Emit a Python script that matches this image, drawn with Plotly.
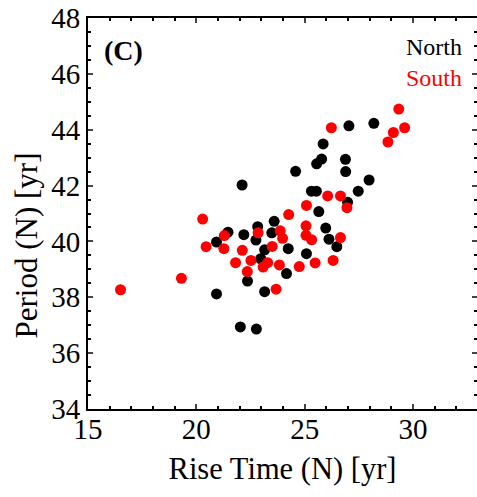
import plotly.graph_objects as go

north_rise = [25.85, 25.55, 25.78, 26.88, 26.89, 24.58, 27.97, 22.11, 25.31, 25.54,
              27.47, 26.98, 25.65, 23.59, 22.83, 21.46, 22.19, 23.48, 25.97, 20.93,
              22.75, 26.12, 26.48, 24.24, 23.15, 25.08, 22.97, 24.16, 22.36, 23.15,
              20.93, 22.03, 22.77, 27.04, 28.19]
north_period = [43.49, 42.78, 42.95, 42.94, 42.50, 42.51, 42.20, 42.02, 41.80, 41.80,
                41.80, 41.40, 41.07, 40.72, 40.53, 40.33, 40.24, 40.31, 40.48, 39.98,
                40.05, 40.08, 39.81, 39.74, 39.70, 39.56, 39.38, 38.85, 38.58, 38.20,
                38.12, 36.94, 36.86, 44.14, 44.23]

south_rise = [29.34, 29.61, 29.09, 28.84, 26.23, 26.06, 26.65, 25.08, 26.95, 24.26,
              20.29, 25.06, 23.87, 22.85, 21.29, 23.98, 25.06, 25.32, 26.65, 20.45,
              21.27, 23.50, 22.12, 21.81, 22.52, 23.29, 23.08, 23.83, 24.75, 25.48,
              26.31, 22.35, 19.31, 16.50, 23.68]
south_period = [44.74, 44.07, 43.90, 43.56, 44.07, 41.63, 41.63, 41.29, 41.21, 40.96,
                40.80, 40.56, 40.38, 40.31, 40.21, 40.11, 40.22, 40.06, 40.14, 39.81,
                39.74, 39.82, 39.68, 39.24, 39.32, 39.24, 39.08, 39.16, 39.10, 39.23,
                39.32, 38.92, 38.68, 38.27, 38.29]

x_ticks = [15, 20, 25, 30]
y_ticks = [34, 36, 38, 40, 42, 44, 46, 48]
x_range = [15, 32.95]
y_range = [34, 48]

FONT = "Liberation Serif"

fig = go.Figure()
fig.add_trace(go.Scatter(x=north_rise, y=north_period, mode="markers", name="North",
                         marker=dict(color="black", size=11)))
fig.add_trace(go.Scatter(x=south_rise, y=south_period, mode="markers", name="South",
                         marker=dict(color="#ff0000", size=11)))

fig.update_layout(
    width=477, height=497,
    margin=dict(l=88, r=0, t=18, b=88),
    paper_bgcolor="white", plot_bgcolor="white",
    showlegend=False,
    font=dict(family=FONT, color="black"),
    xaxis=dict(range=x_range, tickvals=x_ticks, ticks="inside", ticklen=5, tickwidth=1.5,
               showline=True, linecolor="black", linewidth=2, mirror="ticks",
               showgrid=False, zeroline=False, ticklabelstandoff=-7,
               tickfont=dict(size=29, family=FONT),
               minor=dict(dtick=1, ticks="inside", ticklen=3, tickcolor="black", showgrid=False),
               title=dict(text="Rise Time (N) [yr]", font=dict(size=30.5, family=FONT), standoff=14)),
    yaxis=dict(range=y_range, tickvals=y_ticks, ticks="inside", ticklen=5, tickwidth=1.5,
               showline=True, linecolor="black", linewidth=2,
               showgrid=False, zeroline=False,
               tickfont=dict(size=29, family=FONT),
               minor=dict(dtick=0.5, ticks="inside", ticklen=3, tickcolor="black", showgrid=False)),
    yaxis2=dict(range=y_range, overlaying="y", side="right", tickvals=y_ticks,
                ticks="inside", ticklen=5, tickwidth=1.5, showticklabels=False,
                showline=False, showgrid=False, zeroline=False,
                minor=dict(dtick=0.5, ticks="inside", ticklen=3, tickcolor="black", showgrid=False)),
)
fig.add_trace(go.Scatter(x=[None], y=[None], yaxis="y2", showlegend=False))

fig.add_annotation(text="Period (N) [yr]", xref="paper", yref="paper", x=-0.157, y=0.418,
                   xanchor="center", yanchor="middle", textangle=-90, showarrow=False,
                   font=dict(size=31, family=FONT, color="black"))
fig.add_annotation(text="<b>(C)</b>", xref="paper", yref="paper", x=0.035, y=0.918,
                   xanchor="left", yanchor="middle", showarrow=False,
                   font=dict(size=28, family=FONT, color="black"))
fig.add_annotation(text="North", xref="paper", yref="paper", x=0.966, y=0.925,
                   xanchor="right", yanchor="middle", showarrow=False,
                   font=dict(size=24, family=FONT, color="black"))
fig.add_annotation(text="South", xref="paper", yref="paper", x=0.966, y=0.846,
                   xanchor="right", yanchor="middle", showarrow=False,
                   font=dict(size=24, family=FONT, color="#ff0000"))

fig.write_html("out.html")
